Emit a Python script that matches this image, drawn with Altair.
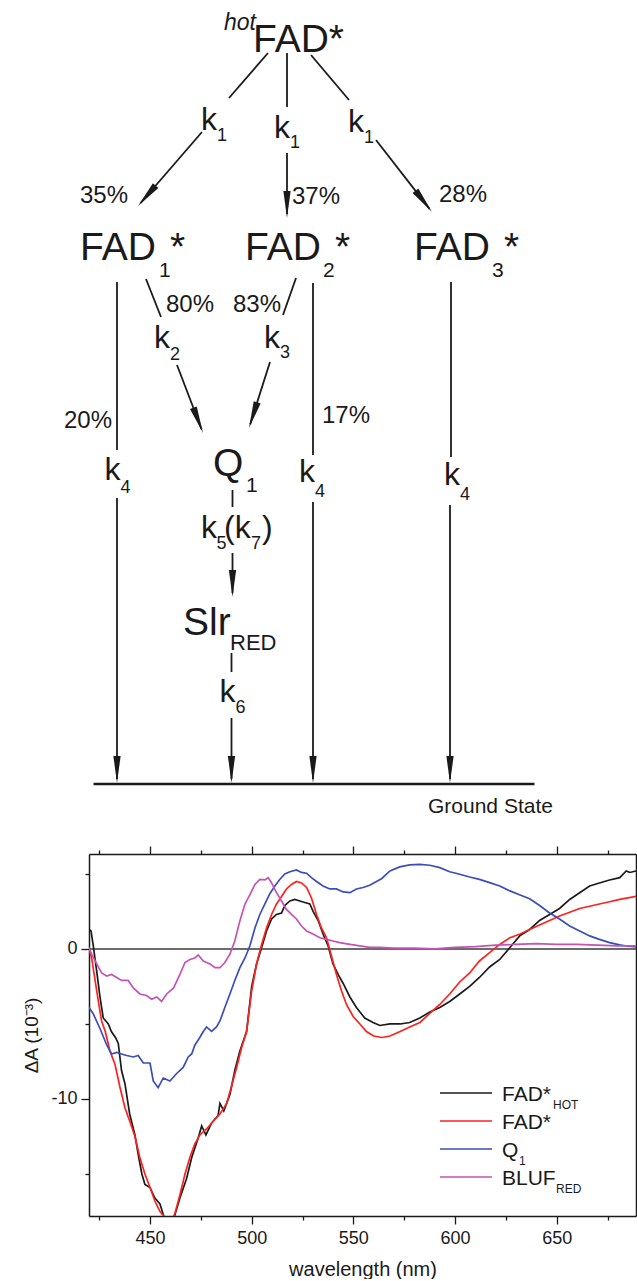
import math
import altair as alt
import pandas as pd

FONT = "Liberation Sans"
INK = "#1a1a1a"

# ---------------- spectra (wavelength nm, dA in 1e-3) ----------------
wl_hot = [420, 421, 422, 423.8, 425.4, 427, 429.5, 431, 433, 434.4, 436, 437.7, 440, 442.6, 444.2, 446,
          447.5, 450, 452.4, 454.9, 456.5, 458, 460, 462.3, 464.7, 468, 470.5, 473.7, 475.4, 477.5, 480.3,
          483.5, 484.4, 486.3, 489.3, 491.7, 494.2, 497.5, 500, 502.4, 504.9, 507.3, 509.8, 512.2, 514.7,
          516.3, 518.8, 521.2, 523.7, 526.1, 528.6, 530.2, 532.7, 535.1, 537.6, 540, 542.5, 545, 548.3,
          551.5, 555.6, 559.7, 563, 568, 573, 577.7, 582.7, 587.6, 592.5, 597.4, 602.3, 607.2, 612, 617,
          622, 627, 632, 636.7, 641.6, 646.5, 651.4, 656.4, 661.3, 666.2, 671, 676, 681, 684.2, 686, 689]
dA_hot = [1.3, 1.2, 0.3, -1.5, -3.2, -4.6, -5.0, -5.5, -5.9, -6.3, -8.1, -9.0, -11.0, -12.4, -13.7, -15.0,
          -15.7, -15.9, -16.6, -17.0, -17.7, -18.2, -18.5, -17.7, -16.6, -15.3, -13.9, -12.6, -11.8, -12.4,
          -11.6, -11.1, -10.3, -10.8, -9.7, -8.1, -6.8, -5.5, -2.5, -1.0, 0.1, 1.2, 2.0, 2.3, 2.4, 2.9, 3.2,
          3.3, 3.2, 3.1, 3.0, 2.5, 1.9, 1.0, 0.2, -1.0, -1.7, -2.3, -3.2, -3.9, -4.6, -4.9, -5.1, -5.0, -5.0,
          -4.9, -4.6, -4.2, -3.9, -3.5, -3.0, -2.5, -1.9, -1.2, -0.7, 0.1, 0.9, 1.3, 1.9, 2.3, 2.7, 3.3, 3.75,
          4.2, 4.4, 4.6, 4.75, 5.2, 5.1, 5.2]

wl_fad = [420, 421.3, 423, 424.6, 426.2, 428, 430.3, 432.8, 435.2, 437.7, 440.1, 442.6, 445, 447.5, 450,
          452.4, 454.9, 457.3, 460, 462.3, 464.7, 467.2, 469.6, 472, 474.5, 477.8, 481, 484.4, 487.7, 490,
          492.6, 495, 497.5, 500, 502.4, 504.9, 507.3, 509.8, 512.2, 514.7, 517.1, 519.6, 522, 524.5, 527,
          529.4, 531.9, 534.3, 536.8, 539.3, 541.7, 544.2, 546.6, 549.9, 553.2, 556.4, 560, 564, 568, 573,
          577.7, 582.7, 587.6, 592.5, 597.4, 602.3, 607.2, 612, 617, 622, 627, 632, 636.7, 641.6, 646.5,
          651.4, 656.4, 661.3, 666.2, 671, 676, 681, 685, 689]
dA_fad = [0.0, -0.6, -2.1, -3.5, -4.8, -5.5, -6.8, -7.7, -9.2, -10.6, -11.5, -12.5, -13.9, -15.0, -15.9,
          -16.8, -17.5, -17.9, -18.3, -17.6, -16.4, -15.0, -13.9, -13.0, -12.4, -12.0, -11.5, -11.0, -10.3,
          -9.2, -7.9, -6.6, -5.5, -2.8, -1.0, 0.3, 1.4, 2.3, 3.0, 3.5, 4.0, 4.3, 4.5, 4.4, 4.1, 3.4, 2.3, 1.4,
          0.75, -0.5, -1.7, -2.8, -3.7, -4.5, -5.0, -5.5, -5.8, -5.9, -5.8, -5.5, -5.2, -4.9, -4.3, -3.7,
          -3.0, -2.2, -1.6, -0.8, -0.25, 0.3, 0.75, 1.0, 1.3, 1.6, 1.9, 2.2, 2.45, 2.7, 2.85, 3.0, 3.15, 3.3,
          3.4, 3.5]

wl_q1 = [420, 422, 425.4, 428.7, 431.1, 433.6, 436, 438.5, 441.8, 444.2, 446.7, 448.3, 450, 451.6, 454,
         456.5, 459.8, 463.1, 466.3, 468.8, 470.5, 472.1, 474.5, 476.2, 477.8, 480.3, 482.7, 484.4, 486.8,
         489.3, 491.7, 494.2, 496.7, 499.1, 501.6, 504, 506.5, 509, 511.4, 513.9, 516.3, 518.8, 522, 524.5,
         527, 529.4, 531.9, 535.1, 538.4, 541.7, 545, 548.3, 551.5, 554.8, 558, 561.4, 564, 568, 572.8,
         577.7, 582.7, 587.6, 592.5, 597.4, 602.3, 607.2, 612, 617, 622, 627, 632, 636.7, 641.6, 646.5,
         651.4, 656.4, 661.3, 666.2, 671, 676, 681, 685, 689]
dA_q1 = [-3.9, -4.3, -5.3, -6.4, -7.0, -6.9, -7.0, -7.1, -7.2, -7.1, -7.6, -7.6, -7.6, -8.8, -9.25, -8.6,
         -8.8, -8.3, -7.9, -7.2, -7.0, -6.4, -5.9, -5.5, -5.2, -5.5, -5.2, -4.8, -3.9, -3.0, -2.1, -1.25,
         -0.6, 0.2, 1.4, 2.3, 3.0, 3.7, 4.2, 4.65, 5.0, 5.15, 5.27, 5.1, 5.05, 4.75, 4.5, 4.2, 4.0, 4.0, 3.8,
         3.75, 4.0, 4.1, 4.25, 4.5, 4.7, 5.2, 5.47, 5.6, 5.64, 5.58, 5.42, 5.15, 4.98, 4.8, 4.64, 4.42, 4.2,
         3.87, 3.6, 3.35, 2.9, 2.4, 2.0, 1.53, 1.2, 0.87, 0.64, 0.42, 0.27, 0.18, 0.13]

wl_bluf = [420, 421.3, 423.8, 426.2, 428.7, 431.1, 433.6, 436, 439.3, 441.8, 445, 448.3, 450.8, 453.3,
           455.7, 458.2, 461.6, 464.7, 467.2, 469.6, 472.1, 473.7, 476.2, 479.5, 482, 484.4, 486.8, 489.3,
           491.7, 494.2, 496.7, 499.1, 501.6, 504, 506.5, 508.1, 509.8, 512.2, 514.7, 517.1, 519.6, 522,
           524.5, 527, 530.2, 533.5, 536.8, 540, 543.3, 548.3, 553.2, 558, 563, 570, 580, 590, 600, 610,
           620, 630, 640, 650, 660, 670, 680, 689]
dA_bluf = [0.1, -0.35, -1.0, -1.6, -1.8, -1.7, -1.9, -2.1, -2.1, -2.6, -3.0, -3.1, -3.35, -3.2, -3.5, -3.0,
           -2.6, -1.7, -0.9, -0.7, -0.6, -0.4, -0.8, -1.0, -1.25, -1.25, -0.9, -0.35, 0.53, 1.87, 3.0, 3.6,
           4.3, 4.64, 4.6, 4.75, 4.4, 3.75, 3.2, 2.64, 2.3, 2.0, 1.53, 1.2, 1.0, 0.75, 0.64, 0.53, 0.42,
           0.31, 0.2, 0.1, 0.1, 0.05, 0.05, 0.0, 0.1, 0.15, 0.25, 0.3, 0.35, 0.3, 0.3, 0.25, 0.2, 0.2]

series_names = ["FAD*HOT", "FAD*", "Q1", "BLUF_RED"]
series_colors = ["#1a1a1a", "#ff2020", "#3b4db8", "#c353b4"]
legend_main = ["FAD*", "FAD*", "Q", "BLUF"]
legend_sub = ["HOT", "", "1", "RED"]

x_ticks = [425, 450, 475, 500, 525, 550, 575, 600, 625, 650, 675]
y_ticks = [-15, -10, -5, 0, 5]
x_domain = [420, 689]
y_domain = [-17.8, 6.33]

# ---------------- kinetic scheme (figure pixel units) ----------------
scheme_text = [  # label, x, baseline y, font size
    ("FAD*", 253, 52, 39),
    ("k", 201, 130, 32), ("1", 217, 141, 18),
    ("k", 274, 138, 32), ("1", 290, 148, 18),
    ("k", 348, 132, 32), ("1", 364, 143, 18),
    ("35%", 80, 203, 24), ("37%", 292, 204, 24), ("28%", 439, 202, 24),
    ("FAD", 80, 260, 39), ("1", 159, 277, 21), ("*", 170, 260, 39),
    ("FAD", 245, 260, 39), ("2", 323, 277, 21), ("*", 335, 260, 39),
    ("FAD", 414, 260, 39), ("3", 492, 277, 21), ("*", 504, 260, 39),
    ("80%", 166, 312, 24), ("83%", 233, 312, 24),
    ("k", 154, 348, 32), ("2", 170, 360, 18),
    ("k", 264, 348, 32), ("3", 280, 358, 18),
    ("20%", 64, 428, 24), ("17%", 322, 423, 24),
    ("k", 104.5, 480, 32), ("4", 120.5, 493, 18),
    ("Q", 213, 476, 39), ("1", 246, 492, 21),
    ("k", 299, 482, 32), ("4", 315, 497, 18),
    ("k", 444, 485, 32), ("4", 460, 500, 18),
    ("k", 201, 538, 32), ("5", 216.5, 549, 18), ("(k", 224, 538, 32), ("7", 251, 549, 18),
    (")", 262, 538, 32),
    ("Slr", 183, 635, 39), ("RED", 230, 650, 22),
    ("k", 219.5, 702, 32), ("6", 235.5, 713, 18),
    ("Ground State", 428, 813, 21),
]
scheme_italic = [("hot", 256, 30, 23)]

scheme_lines = [  # x1, y1, x2, y2, arrow head at (x2, y2)
    (268, 53, 229, 98, 0), (202, 132, 138, 206, 1),
    (287, 53, 287, 107, 0), (287, 153, 287, 218, 1),
    (311, 55, 349, 100, 0), (376, 140, 432, 212, 1),
    (146, 279, 161, 317, 0), (177, 365, 203, 433, 1),
    (296, 278, 283, 315, 0), (270, 362, 249, 428, 1),
    (117, 282, 117, 450, 0), (117, 498, 117, 783, 1),
    (313, 283, 313, 455, 0), (313, 502, 313, 783, 1),
    (451, 282, 451, 457, 0), (450, 505, 450, 783, 1),
    (232.5, 490, 232.5, 507, 0), (232.5, 553, 232.5, 597, 1),
    (231.5, 653, 231.5, 672, 0), (231.5, 718, 231.5, 783, 1),
]
ground_line = [(93.5, 784, 534.5, 784)]

HEAD_LEN = 27
ARROW = "M-0.27,-1L0.27,-1L0,1Z"

# ---------------- build tables ----------------
rows = []
for name, wl, dA in zip(series_names, [wl_hot, wl_fad, wl_q1, wl_bluf], [dA_hot, dA_fad, dA_q1, dA_bluf]):
    assert len(wl) == len(dA), name
    for i, (w, a) in enumerate(zip(wl, dA)):
        rows.append({"series": name, "wl": w, "dA": a, "i": i})
spec_df = pd.DataFrame(rows)

seg_rows, head_rows = [], []
for x1, y1, x2, y2, head in scheme_lines:
    L = math.hypot(x2 - x1, y2 - y1)
    ux, uy = (x2 - x1) / L, (y2 - y1) / L
    ex, ey = (x2 - 4 * ux, y2 - 4 * uy) if head else (x2, y2)
    seg_rows.append({"x1": x1, "y1": y1, "x2": ex, "y2": ey})
    if head:
        ang = math.degrees(math.atan2(-ux, uy)) % 360
        head_rows.append({"x": x2 - ux * HEAD_LEN / 2, "y": y2 - uy * HEAD_LEN / 2, "angle": ang})
seg_df = pd.DataFrame(seg_rows)
head_df = pd.DataFrame(head_rows)
ground_df = pd.DataFrame([{"x1": a, "y1": b, "x2": c, "y2": d} for a, b, c, d in ground_line])
text_df = pd.DataFrame([{"t": t, "x": x, "y": y, "s": s} for t, x, y, s in scheme_text])
ital_df = pd.DataFrame([{"t": t, "x": x, "y": y, "s": s} for t, x, y, s in scheme_italic])

# ---------------- scheme chart (its plot area lines up with the spectrum's) ----------------
W, H = 547, 362
PLOT_LEFT = 89
DH = 820
dxs = alt.Scale(domain=[PLOT_LEFT, PLOT_LEFT + W], nice=False, zero=False)
dys = alt.Scale(domain=[0, DH], reverse=True, nice=False, zero=False)

seg = alt.Chart(seg_df).mark_rule(color=INK, strokeWidth=1.8).encode(
    x=alt.X("x1:Q", scale=dxs, axis=None), y=alt.Y("y1:Q", scale=dys, axis=None),
    x2="x2:Q", y2="y2:Q")
gnd = alt.Chart(ground_df).mark_rule(color=INK, strokeWidth=2.4).encode(
    x=alt.X("x1:Q", scale=dxs, axis=None), y=alt.Y("y1:Q", scale=dys, axis=None),
    x2="x2:Q", y2="y2:Q")
heads = alt.Chart(head_df).mark_point(shape=ARROW, filled=True, size=HEAD_LEN ** 2, opacity=1,
                                       color=INK, strokeWidth=0).encode(
    x=alt.X("x:Q", scale=dxs, axis=None), y=alt.Y("y:Q", scale=dys, axis=None),
    angle=alt.Angle("angle:Q", scale=None))
txt = alt.Chart(text_df).mark_text(align="left", baseline="alphabetic", font=FONT, color=INK).encode(
    x=alt.X("x:Q", scale=dxs, axis=None), y=alt.Y("y:Q", scale=dys, axis=None),
    text="t:N", size=alt.Size("s:Q", scale=None))
ital = alt.Chart(ital_df).mark_text(align="right", baseline="alphabetic", font=FONT, color=INK,
                                    fontStyle="italic").encode(
    x=alt.X("x:Q", scale=dxs, axis=None), y=alt.Y("y:Q", scale=dys, axis=None),
    text="t:N", size=alt.Size("s:Q", scale=None))

scheme = alt.layer(seg, gnd, heads, txt, ital).properties(width=W, height=DH)

# ---------------- spectrum chart ----------------
xs = alt.Scale(domain=x_domain, nice=False, zero=False)
ys = alt.Scale(domain=y_domain, nice=False, zero=False)
cscale = alt.Scale(domain=series_names, range=series_colors)

AX = dict(domainColor=INK, domainWidth=1.5, tickColor=INK, tickWidth=1.3, labelColor=INK,
          labelFont=FONT, labelFontSize=18, titleFont=FONT, titleFontWeight="normal",
          titleColor=INK, grid=False)
x_tick_size = {"condition": {"test": "datum.value % 50 === 0", "value": 8}, "value": 4}
y_tick_size = {"condition": {"test": "datum.value % 10 === 0", "value": 8}, "value": 4}

bottom_axis = alt.Axis(orient="bottom", values=x_ticks, tickSize=x_tick_size,
                       labelExpr="datum.value % 50 === 0 ? datum.label : ''", labelPadding=5,
                       title="wavelength (nm)", titleFontSize=20, titlePadding=12, **AX)
top_axis = alt.Axis(orient="top", values=x_ticks, tickSize=x_tick_size, labels=False, title=None, **AX)
left_axis = alt.Axis(orient="left", values=y_ticks, tickSize=y_tick_size,
                     labelExpr="datum.value === 0 ? '0' : (datum.value === -10 ? '-10' : '')",
                     labelPadding=4, title="ΔA (10⁻³)", titleFontSize=19, titlePadding=9, **AX)
right_axis = alt.Axis(orient="right", ticks=False, labels=False, title=None, **AX)

zero_df = pd.DataFrame({"x0": [x_domain[0]], "x1": [x_domain[1]], "y": [0]})
zero = alt.Chart(zero_df).mark_rule(color="#3a3a3a", strokeWidth=1.5).encode(
    x=alt.X("x0:Q", scale=xs, axis=top_axis), x2="x1:Q",
    y=alt.Y("y:Q", scale=ys, axis=right_axis))

lines = alt.Chart(spec_df).mark_line(clip=True, strokeWidth=1.7).encode(
    x=alt.X("wl:Q", scale=xs, axis=bottom_axis),
    y=alt.Y("dA:Q", scale=ys, axis=left_axis),
    color=alt.Color("series:N", scale=cscale, legend=None),
    order="i:Q")

leg_df = pd.DataFrame({"row": range(4), "name": series_names, "main": legend_main, "sub": legend_sub,
                       "sx": [464, 0, 430, 467]})
leg_y = alt.Y("row:Q", scale=alt.Scale(domain=[0, 3], range=[239, 323]), axis=None)
leg_rules = alt.Chart(leg_df).mark_rule(strokeWidth=1.7).encode(
    x=alt.value(351), x2=alt.value(403), y=leg_y,
    color=alt.Color("name:N", scale=cscale, legend=None))
leg_main = alt.Chart(leg_df).mark_text(align="left", baseline="alphabetic", dy=8, fontSize=21,
                                       font=FONT, color=INK).encode(
    x=alt.value(413), y=leg_y, text="main:N")
leg_sub = alt.Chart(leg_df).mark_text(align="left", baseline="alphabetic", dy=16, fontSize=12,
                                      font=FONT, color=INK).encode(
    x=alt.X("sx:Q", scale=None, axis=None), y=leg_y, text="sub:N")

spectrum = alt.layer(zero, lines, leg_rules, leg_main, leg_sub).resolve_scale(
    x="independent", y="independent").properties(width=W, height=H)

chart = alt.vconcat(scheme, spectrum, spacing=25).properties(
    padding={"left": 22, "top": 0, "right": 0, "bottom": 0}
).configure(font=FONT).configure_view(stroke=None)

chart.save("out.html", embed_options={"renderer": "svg", "actions": False})
